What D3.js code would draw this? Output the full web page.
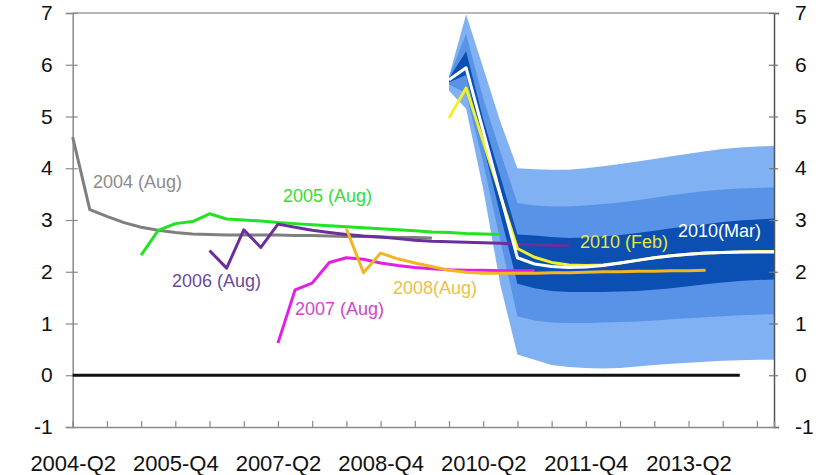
<!DOCTYPE html>
<html>
<head>
<meta charset="utf-8">
<script src="https://cdn.jsdelivr.net/npm/d3@7"></script>
<style>
  html, body { margin: 0; padding: 0; background: #fff; }
  svg { display: block; font-family: "Liberation Sans", Arial, sans-serif; }
</style>
</head>
<body>
<svg id="chart" width="829" height="475"></svg>
<script>
// ---- Data (x = quarter index, 0 = 2004-Q2) ----
const tickLabels = ["2004-Q2", "2005-Q4", "2007-Q2", "2008-Q4", "2010-Q2", "2011-Q4", "2013-Q2"];
const tickLabelIdx = [0, 6, 12, 18, 24, 30, 36];
const yTicks = [-1, 0, 1, 2, 3, 4, 5, 6, 7];

const s2004Start = 0;
const s2004 = [4.6, 3.2, 3.07, 2.95, 2.86, 2.8, 2.76, 2.73, 2.72, 2.71, 2.71, 2.71, 2.71, 2.7, 2.7, 2.69, 2.68, 2.68, 2.67, 2.66, 2.66, 2.65];
const s2005Start = 4;
const s2005 = [2.32, 2.8, 2.93, 2.97, 3.12, 3.02, 3.0, 2.98, 2.95, 2.93, 2.91, 2.89, 2.87, 2.85, 2.83, 2.81, 2.79, 2.77, 2.76, 2.74, 2.73, 2.72];
const s2006Start = 8;
const s2006 = [2.41, 2.07, 2.81, 2.47, 2.92, 2.86, 2.8, 2.76, 2.72, 2.69, 2.67, 2.64, 2.61, 2.59, 2.58, 2.57, 2.56, 2.55, 2.53, 2.52, 2.51, 2.5];
const s2007Start = 12;
const s2007 = [0.62, 1.65, 1.78, 2.18, 2.27, 2.24, 2.17, 2.12, 2.08, 2.06, 2.04, 2.03, 2.03, 2.02, 2.02, 2.02];
const s2008Start = 16;
const s2008 = [2.83, 1.98, 2.36, 2.25, 2.17, 2.1, 2.03, 1.99, 1.97, 1.97, 1.97, 1.97, 1.98, 1.98, 1.99, 2.0, 2.0, 2.01, 2.01, 2.02, 2.02, 2.03];
const s2010FebStart = 22;
const s2010Feb = [4.97, 5.55, 4.52, 3.48, 2.45, 2.28, 2.18, 2.13, 2.12, 2.13, 2.17, 2.22, 2.27, 2.31, 2.34, 2.36, 2.37, 2.38, 2.39, 2.39];
const s2010MarStart = 22;
const s2010Mar = [5.71, 5.94, 4.72, 3.49, 2.27, 2.15, 2.1, 2.08, 2.09, 2.12, 2.17, 2.22, 2.27, 2.31, 2.34, 2.36, 2.37, 2.38, 2.38, 2.38];

// Fan chart bands (from quarter index 22)
const fanStart = 22;
const outerHigh = [5.78, 6.97, 5.94, 4.9, 4.0, 3.98, 3.97, 3.97, 4.0, 4.04, 4.08, 4.13, 4.18, 4.23, 4.28, 4.33, 4.37, 4.4, 4.42, 4.43];
const midHigh   = [5.76, 6.6, 5.35, 4.32, 3.33, 3.28, 3.26, 3.26, 3.28, 3.31, 3.34, 3.38, 3.43, 3.48, 3.52, 3.56, 3.59, 3.61, 3.62, 3.63];
const darkHigh  = [5.74, 6.26, 4.94, 3.84, 2.72, 2.7, 2.67, 2.65, 2.66, 2.68, 2.71, 2.75, 2.79, 2.84, 2.88, 2.92, 2.96, 2.99, 3.01, 3.03];
const darkLow   = [5.66, 5.8, 4.45, 3.1, 1.77, 1.68, 1.63, 1.61, 1.61, 1.61, 1.62, 1.63, 1.65, 1.68, 1.72, 1.76, 1.79, 1.82, 1.84, 1.85];
const midLow    = [5.62, 5.45, 4.1, 2.6, 1.14, 1.06, 1.02, 1.01, 1.01, 1.02, 1.03, 1.04, 1.06, 1.08, 1.1, 1.12, 1.14, 1.16, 1.17, 1.18];
const outerLow  = [5.5, 5.15, 3.6, 1.75, 0.4, 0.3, 0.2, 0.16, 0.14, 0.13, 0.14, 0.17, 0.2, 0.22, 0.24, 0.26, 0.28, 0.29, 0.3, 0.3];

const zeroLine = [0, 39]; // quarter index span of the zero line

// ---- Layout ----
const svg = d3.select("#chart");
const L = 72.7, R = 774, T = 13, B = 427;
const x = d3.scaleLinear().domain([0, 41]).range([L, R]);
const y = d3.scaleLinear().domain([-1, 7]).range([B, T]);

svg.append("rect").attr("width", 829).attr("height", 475).attr("fill", "#fff");

// ---- Fan ----
function bandData(lo, hi) {
  return lo.map((v, i) => ({ q: fanStart + i, lo: v, hi: hi[i] }));
}
const area = d3.area().x(d => x(d.q)).y0(d => y(d.lo)).y1(d => y(d.hi)).curve(d3.curveLinear);
svg.append("path").datum(bandData(outerLow, outerHigh)).attr("d", area).attr("fill", "#80b1f2");
svg.append("path").datum(bandData(midLow, midHigh)).attr("d", area).attr("fill", "#5893e8");
svg.append("path").datum(bandData(darkLow, darkHigh)).attr("d", area).attr("fill", "#0c4fb2");

// ---- Frame / axes ----
svg.append("line").attr("x1", L).attr("x2", R).attr("y1", T).attr("y2", T).attr("stroke", "#a0a0a0").attr("stroke-width", 1.5);

const fmt = d => String(d);
const leftAxis = svg.append("g").attr("transform", `translate(${L},0)`)
  .call(d3.axisLeft(y).tickValues(yTicks).tickFormat(fmt).tickSizeOuter(0).tickSize(7).tickPadding(13));
leftAxis.select(".domain").attr("stroke", "#8a8a8a").attr("stroke-width", 1.5);
leftAxis.selectAll(".tick line").attr("x1", 5).attr("x2", -7).attr("stroke", "#8a8a8a").attr("stroke-width", 1.2);
leftAxis.selectAll(".tick text").attr("font-size", 21).attr("fill", "#111").attr("font-family", "Liberation Sans, Arial, sans-serif");

const rightAxis = svg.append("g").attr("transform", `translate(${R},0)`)
  .call(d3.axisRight(y).tickValues(yTicks).tickFormat(fmt).tickSizeOuter(0).tickSize(5).tickPadding(16));
rightAxis.select(".domain").attr("stroke", "#555").attr("stroke-width", 1.5);
rightAxis.selectAll(".tick line").attr("x1", -5).attr("x2", 4).attr("stroke", "#777").attr("stroke-width", 1.2);
rightAxis.selectAll(".tick text").attr("font-size", 21).attr("fill", "#111").attr("font-family", "Liberation Sans, Arial, sans-serif");

const evenTicks = d3.range(0, 41, 2);
const bottomAxis = svg.append("g").attr("transform", `translate(0,${B})`)
  .call(d3.axisBottom(x).tickValues(evenTicks).tickFormat(d => {
      const k = tickLabelIdx.indexOf(d); return k >= 0 ? tickLabels[k] : "";
    }).tickSizeOuter(0).tickSize(-6));
bottomAxis.select(".domain").attr("stroke", "#8a8a8a").attr("stroke-width", 1.5);
bottomAxis.selectAll(".tick line").attr("stroke", "#8a8a8a").attr("stroke-width", 1.2);
bottomAxis.selectAll(".tick text").attr("font-size", 22).attr("fill", "#111")
  .attr("font-family", "Liberation Sans, Arial, sans-serif").attr("y", 44).attr("dy", 0);

// ---- Zero line ----
svg.append("line").attr("x1", x(zeroLine[0])).attr("x2", x(zeroLine[1]))
  .attr("y1", y(0)).attr("y2", y(0)).attr("stroke", "#111").attr("stroke-width", 3);

// ---- Lines ----
const line = d3.line().x(d => x(d.q)).y(d => y(d.v));
function series(start, vals) { return vals.map((v, i) => ({ q: start + i, v })); }
function draw(start, vals, color, w) {
  svg.append("path").datum(series(start, vals)).attr("d", line)
    .attr("fill", "none").attr("stroke", color).attr("stroke-width", w)
    .attr("stroke-linejoin", "round");
}
draw(s2004Start, s2004, "#7f7f7f", 3);
draw(s2005Start, s2005, "#22e322", 3);
draw(s2006Start, s2006, "#6a2f9c", 3);
draw(s2007Start, s2007, "#e41fe4", 3);
draw(s2008Start, s2008, "#f4b520", 3);
draw(s2010FebStart, s2010Feb, "#f0f02c", 3);
draw(s2010MarStart, s2010Mar, "#ffffff", 3);

// ---- Labels ----
const labels = [
  { t: "2004 (Aug)", x: 93, y: 188, c: "#8c8c8c" },
  { t: "2005 (Aug)", x: 283, y: 202, c: "#33dd33" },
  { t: "2006 (Aug)", x: 172, y: 287, c: "#6b4a9c" },
  { t: "2007 (Aug)", x: 295, y: 315, c: "#cf45cf" },
  { t: "2008(Aug)", x: 393, y: 294, c: "#e9c242" },
  { t: "2010 (Feb)", x: 580, y: 248, c: "#e6e640" },
  { t: "2010(Mar)", x: 678, y: 237, c: "#ffffff" }
];
svg.selectAll("text.lbl").data(labels).enter().append("text").attr("class", "lbl")
  .attr("x", d => d.x).attr("y", d => d.y).attr("fill", d => d.c)
  .attr("font-size", 18).text(d => d.t);
</script>
</body>
</html>
